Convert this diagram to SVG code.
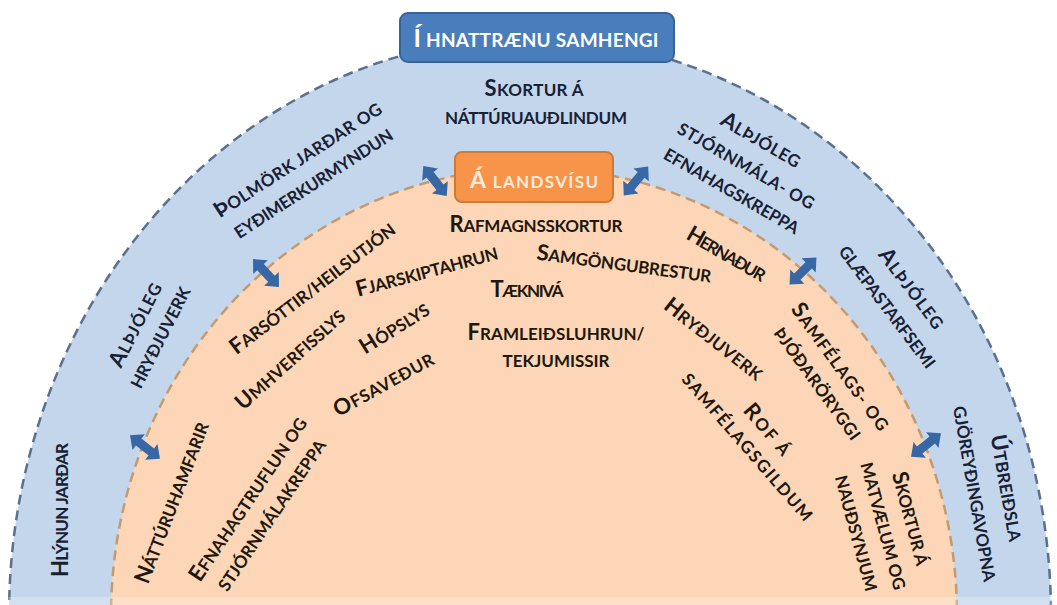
<svg xmlns="http://www.w3.org/2000/svg" width="1057" height="605" viewBox="0 0 1057 605">
<style>
text{font-family:Lato,"Open Sans","Liberation Sans",sans-serif;font-weight:700;font-size:17px;text-anchor:middle}
.o{fill:#182133}
.i{fill:#20170e}
.c{font-size:22px}
.hb{fill:#ffffff;font-size:19px}
.hc{font-size:25px}
.lb{fill:#fdebdc;font-size:17px}
.lc{font-size:23px}
</style>
<defs>
<path id="dar" d="M-19,0 L-8,-10 L-8,-4.5 L8,-4.5 L8,-10 L19,0 L8,10 L8,4.5 L-8,4.5 L-8,10 Z" fill="#3767a5"/>
</defs>
<rect width="1057" height="605" fill="#ffffff"/>
<g id="global">
<path d="M9,616 C9,297 243,38 529,38 C817,38 1051,297 1051,616 Z" fill="#c4d6ec" stroke="#5a708d" stroke-width="2.5" stroke-dasharray="10 6"/>
</g>
<g id="national">
<ellipse cx="534" cy="616" rx="423" ry="448" fill="#fcd6b6" stroke="#c59a70" stroke-width="2.5" stroke-dasharray="10 6"/>
</g>
<rect x="0" y="597" width="1057" height="8" fill="#ffffff" opacity="0.25"/>
<g id="connectors">
<use href="#dar" transform="translate(266,273) rotate(47)"/>
<use href="#dar" transform="translate(435,181) rotate(52)"/>
<use href="#dar" transform="translate(636,181) rotate(-50)"/>
<use href="#dar" transform="translate(803,271) rotate(-45)"/>
<use href="#dar" transform="translate(926,445) rotate(-38)"/>
<use href="#dar" transform="translate(145,447) rotate(38)"/>
</g>
<g id="box-global">
<rect x="400" y="13" width="274" height="49" rx="8" fill="#4a7dbb" stroke="#36639a" stroke-width="2"/>
<text class="hb" x="536" y="47" textLength="245"><tspan class="hc">Í</tspan> HNATTRÆNU SAMHENGI</text>
</g>
<g id="box-national">
<rect x="455" y="152" width="158" height="50" rx="7" fill="#f7944a" stroke="#cf7a34" stroke-width="2"/>
<text class="lb" x="534" y="188" textLength="128"><tspan class="lc">Á</tspan> LANDSVÍSU</text>
</g>
<g id="n-skortur-natt" class="o">
<text x="534" y="96" textLength="99"><tspan class="c">S</tspan>KORTUR Á</text>
<text x="536" y="124" textLength="182">NÁTTÚRUAUÐLINDUM</text>
</g>
<g id="n-tholmork" class="o" transform="translate(306,172) rotate(-33)">
<text x="0" y="-8" textLength="195"><tspan class="c">Þ</tspan>OLMÖRK JARÐAR OG</text>
<text x="0" y="20" textLength="185">EYÐIMERKURMYNDUN</text>
</g>
<g id="n-althj-hryd" class="o" transform="translate(148.5,331.5) rotate(-63)">
<text x="0" y="-7.5" textLength="92"><tspan class="c">A</tspan>LÞJÓLEG</text>
<text x="0" y="19.5" textLength="111">HRYÐJUVERK</text>
</g>
<g id="n-hlynun" class="o" transform="translate(62,510) rotate(-90)">
<text x="0" y="6" textLength="134"><tspan class="c">H</tspan>LÝNUN JARÐAR</text>
</g>
<g id="n-althj-stjorn" class="o" transform="translate(746,166) rotate(30)">
<text x="0" y="-23" textLength="89"><tspan class="c">A</tspan>LÞJÓLEG</text>
<text x="0" y="6" textLength="155">STJÓRNMÁLA- OG</text>
<text x="0" y="35" textLength="153">EFNAHAGSKREPPA</text>
</g>
<g id="n-althj-glaep" class="o" transform="translate(899,298) rotate(53)">
<text x="0" y="-9" textLength="95"><tspan class="c">A</tspan>LÞJÓLEG</text>
<text x="0" y="21" textLength="148">GLÆPASTARFSEMI</text>
</g>
<g id="n-utbreidsla" class="o" transform="translate(990,491) rotate(80)">
<text x="0" y="-10" textLength="108"><tspan class="c">Ú</tspan>TBREIÐSLA</text>
<text x="0" y="22" textLength="178">GJÖREYÐINGAVOPNA</text>
</g>
<g id="n-rafmagn" class="i">
<text x="536" y="232" textLength="173"><tspan class="c">R</tspan>AFMAGNSSKORTUR</text>
</g>
<g id="n-fjarskipta" class="i" transform="translate(427,272) rotate(-15)">
<text x="0" y="6" textLength="146"><tspan class="c">F</tspan>JARSKIPTAHRUN</text>
</g>
<g id="n-samgongu" class="i" transform="translate(624,265) rotate(7.5)">
<text x="0" y="6" textLength="176"><tspan class="c">S</tspan>AMGÖNGUBRESTUR</text>
</g>
<g id="n-taekniva" class="i">
<text x="527" y="297" textLength="73"><tspan class="c">T</tspan>ÆKNIVÁ</text>
</g>
<g id="n-hernadur" class="i" transform="translate(726,255) rotate(30)">
<text x="0" y="6" textLength="88"><tspan class="c">H</tspan>ERNAÐUR</text>
</g>
<g id="n-farsottir" class="i" transform="translate(313,289) rotate(-37.5)">
<text x="0" y="6" textLength="202"><tspan class="c">F</tspan>ARSÓTTIR/HEILSUTJÓN</text>
</g>
<g id="n-umhverfis" class="i" transform="translate(291,360) rotate(-42)">
<text x="0" y="6" textLength="139"><tspan class="c">U</tspan>MHVERFISSLYS</text>
</g>
<g id="n-hopslys" class="i" transform="translate(395,329) rotate(-32)">
<text x="0" y="6" textLength="78"><tspan class="c">H</tspan>ÓPSLYS</text>
</g>
<g id="n-framleidslu" class="i">
<text x="556" y="340" textLength="177"><tspan class="c">F</tspan>RAMLEIÐSLUHRUN/</text>
<text x="556" y="367" textLength="107">TEKJUMISSIR</text>
</g>
<g id="n-ofsavedur" class="i" transform="translate(384,385) rotate(-29)">
<text x="0" y="6" textLength="111"><tspan class="c">O</tspan>FSAVEÐUR</text>
</g>
<g id="n-natturu" class="i" transform="translate(173,503) rotate(-69)">
<text x="0" y="6" textLength="171"><tspan class="c">N</tspan>ÁTTÚRUHAMFARIR</text>
</g>
<g id="n-efnahag" class="i" transform="translate(260.5,507.5) rotate(-56)">
<text x="0" y="-8" textLength="193"><tspan class="c">E</tspan>FNAHAGTRUFLUN OG</text>
<text x="0" y="20" textLength="178">STJÓRNMÁLAKREPPA</text>
</g>
<g id="n-hrydjuverk" class="i" transform="translate(713,340) rotate(38)">
<text x="0" y="6" textLength="119"><tspan class="c">H</tspan>RYÐJUVERK</text>
</g>
<g id="n-samfelags" class="i" transform="translate(828.5,375.5) rotate(54)">
<text x="0" y="-8" textLength="152"><tspan class="c">S</tspan>AMFÉLAGS- OG</text>
<text x="0" y="20" textLength="134">ÞJÓÐARÖRYGGI</text>
</g>
<g id="n-rof" class="i" transform="translate(757,438.5) rotate(49)">
<text x="0" y="-7" textLength="61"><tspan class="c">R</tspan>OF Á</text>
<text x="0" y="19" textLength="189">SAMFÉLAGSGILDUM</text>
</g>
<g id="n-skortur-mat" class="i" transform="translate(883,526) rotate(75)">
<text x="0" y="-22" textLength="96"><tspan class="c">S</tspan>KORTUR Á</text>
<text x="0" y="6" textLength="131">MATVÆLUM OG</text>
<text x="0" y="34" textLength="119">NAUÐSYNJUM</text>
</g>
</svg>
